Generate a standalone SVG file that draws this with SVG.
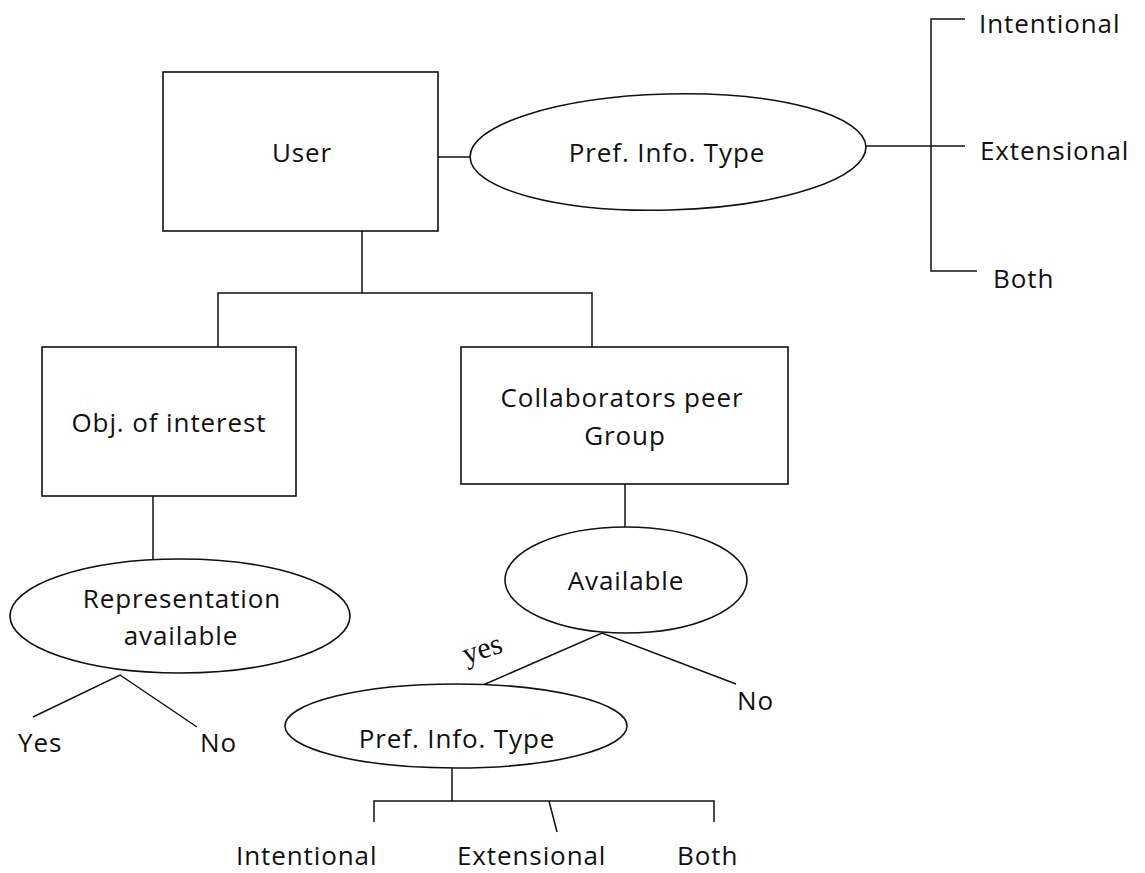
<svg xmlns="http://www.w3.org/2000/svg" width="1145" height="873" viewBox="0 0 1145 873">
<style>
.s{fill:#fff;stroke:#111;stroke-width:1.6}
.c{fill:none;stroke:#111;stroke-width:1.5}
.t{font-family:"Open Sans","Liberation Sans",sans-serif;font-size:26px;letter-spacing:0.9px;fill:#111}
.m{text-anchor:middle}
.y{font-family:"Liberation Serif","DejaVu Serif",serif;font-size:30px;fill:#111}
</style>
<rect width="1145" height="873" fill="#fff"/>
<g id="connectors">
<line class="c" x1="438" y1="157" x2="471" y2="157"/>
<line class="c" x1="866" y1="146" x2="965" y2="146"/>
<polyline class="c" points="965,19 931,19 931,271 977,271"/>
<line class="c" x1="362" y1="231" x2="362" y2="293"/>
<polyline class="c" points="218,347 218,293 592,293 592,347"/>
<line class="c" x1="153" y1="496" x2="153" y2="559"/>
<polyline class="c" points="33,717 120,675 197,727"/>
<line class="c" x1="625" y1="484" x2="625" y2="528"/>
<polyline class="c" points="483,685 602,633 736,684"/>
<line class="c" x1="452" y1="768" x2="452" y2="801"/>
<polyline class="c" points="374,822 374,801 714,801 714,822"/>
<line class="c" x1="549" y1="801" x2="557" y2="832"/>
</g>
<g id="user"><rect class="s" x="163" y="72" width="275" height="159"/><text class="t m" x="302" y="162">User</text></g>
<g id="pref-top"><ellipse class="s" cx="668" cy="152" rx="198" ry="58" transform="rotate(-1.5 668 152)"/><text class="t m" x="667" y="162">Pref. Info. Type</text></g>
<g id="top-options">
<text class="t" x="979" y="33">Intentional</text>
<text class="t" x="980" y="160">Extensional</text>
<text class="t" x="993" y="288">Both</text>
</g>
<g id="obj"><rect class="s" x="42" y="347" width="254" height="149"/><text class="t m" x="169" y="432">Obj. of interest</text></g>
<g id="collab"><rect class="s" x="461" y="347" width="327" height="137"/><text class="t m" x="622" y="407">Collaborators peer</text><text class="t m" x="625" y="445">Group</text></g>
<g id="repr"><ellipse class="s" cx="180" cy="616" rx="170" ry="57"/><text class="t m" x="182" y="608">Representation</text><text class="t m" x="181" y="645">available</text></g>
<g id="repr-options"><text class="t" x="18" y="752">Yes</text><text class="t" x="200" y="752">No</text></g>
<g id="available"><ellipse class="s" cx="626" cy="580" rx="121" ry="53"/><text class="t m" x="626" y="590">Available</text></g>
<g id="avail-options"><text class="y m" transform="translate(485 658) rotate(-18)" x="0" y="0">yes</text><text class="t" x="737" y="710">No</text></g>
<g id="pref-bottom"><ellipse class="s" cx="456" cy="726" rx="171" ry="42"/><text class="t m" x="457" y="748">Pref. Info. Type</text></g>
<g id="bottom-options">
<text class="t" x="236" y="865">Intentional</text>
<text class="t" x="457" y="865">Extensional</text>
<text class="t" x="677" y="865">Both</text>
</g>
</svg>
